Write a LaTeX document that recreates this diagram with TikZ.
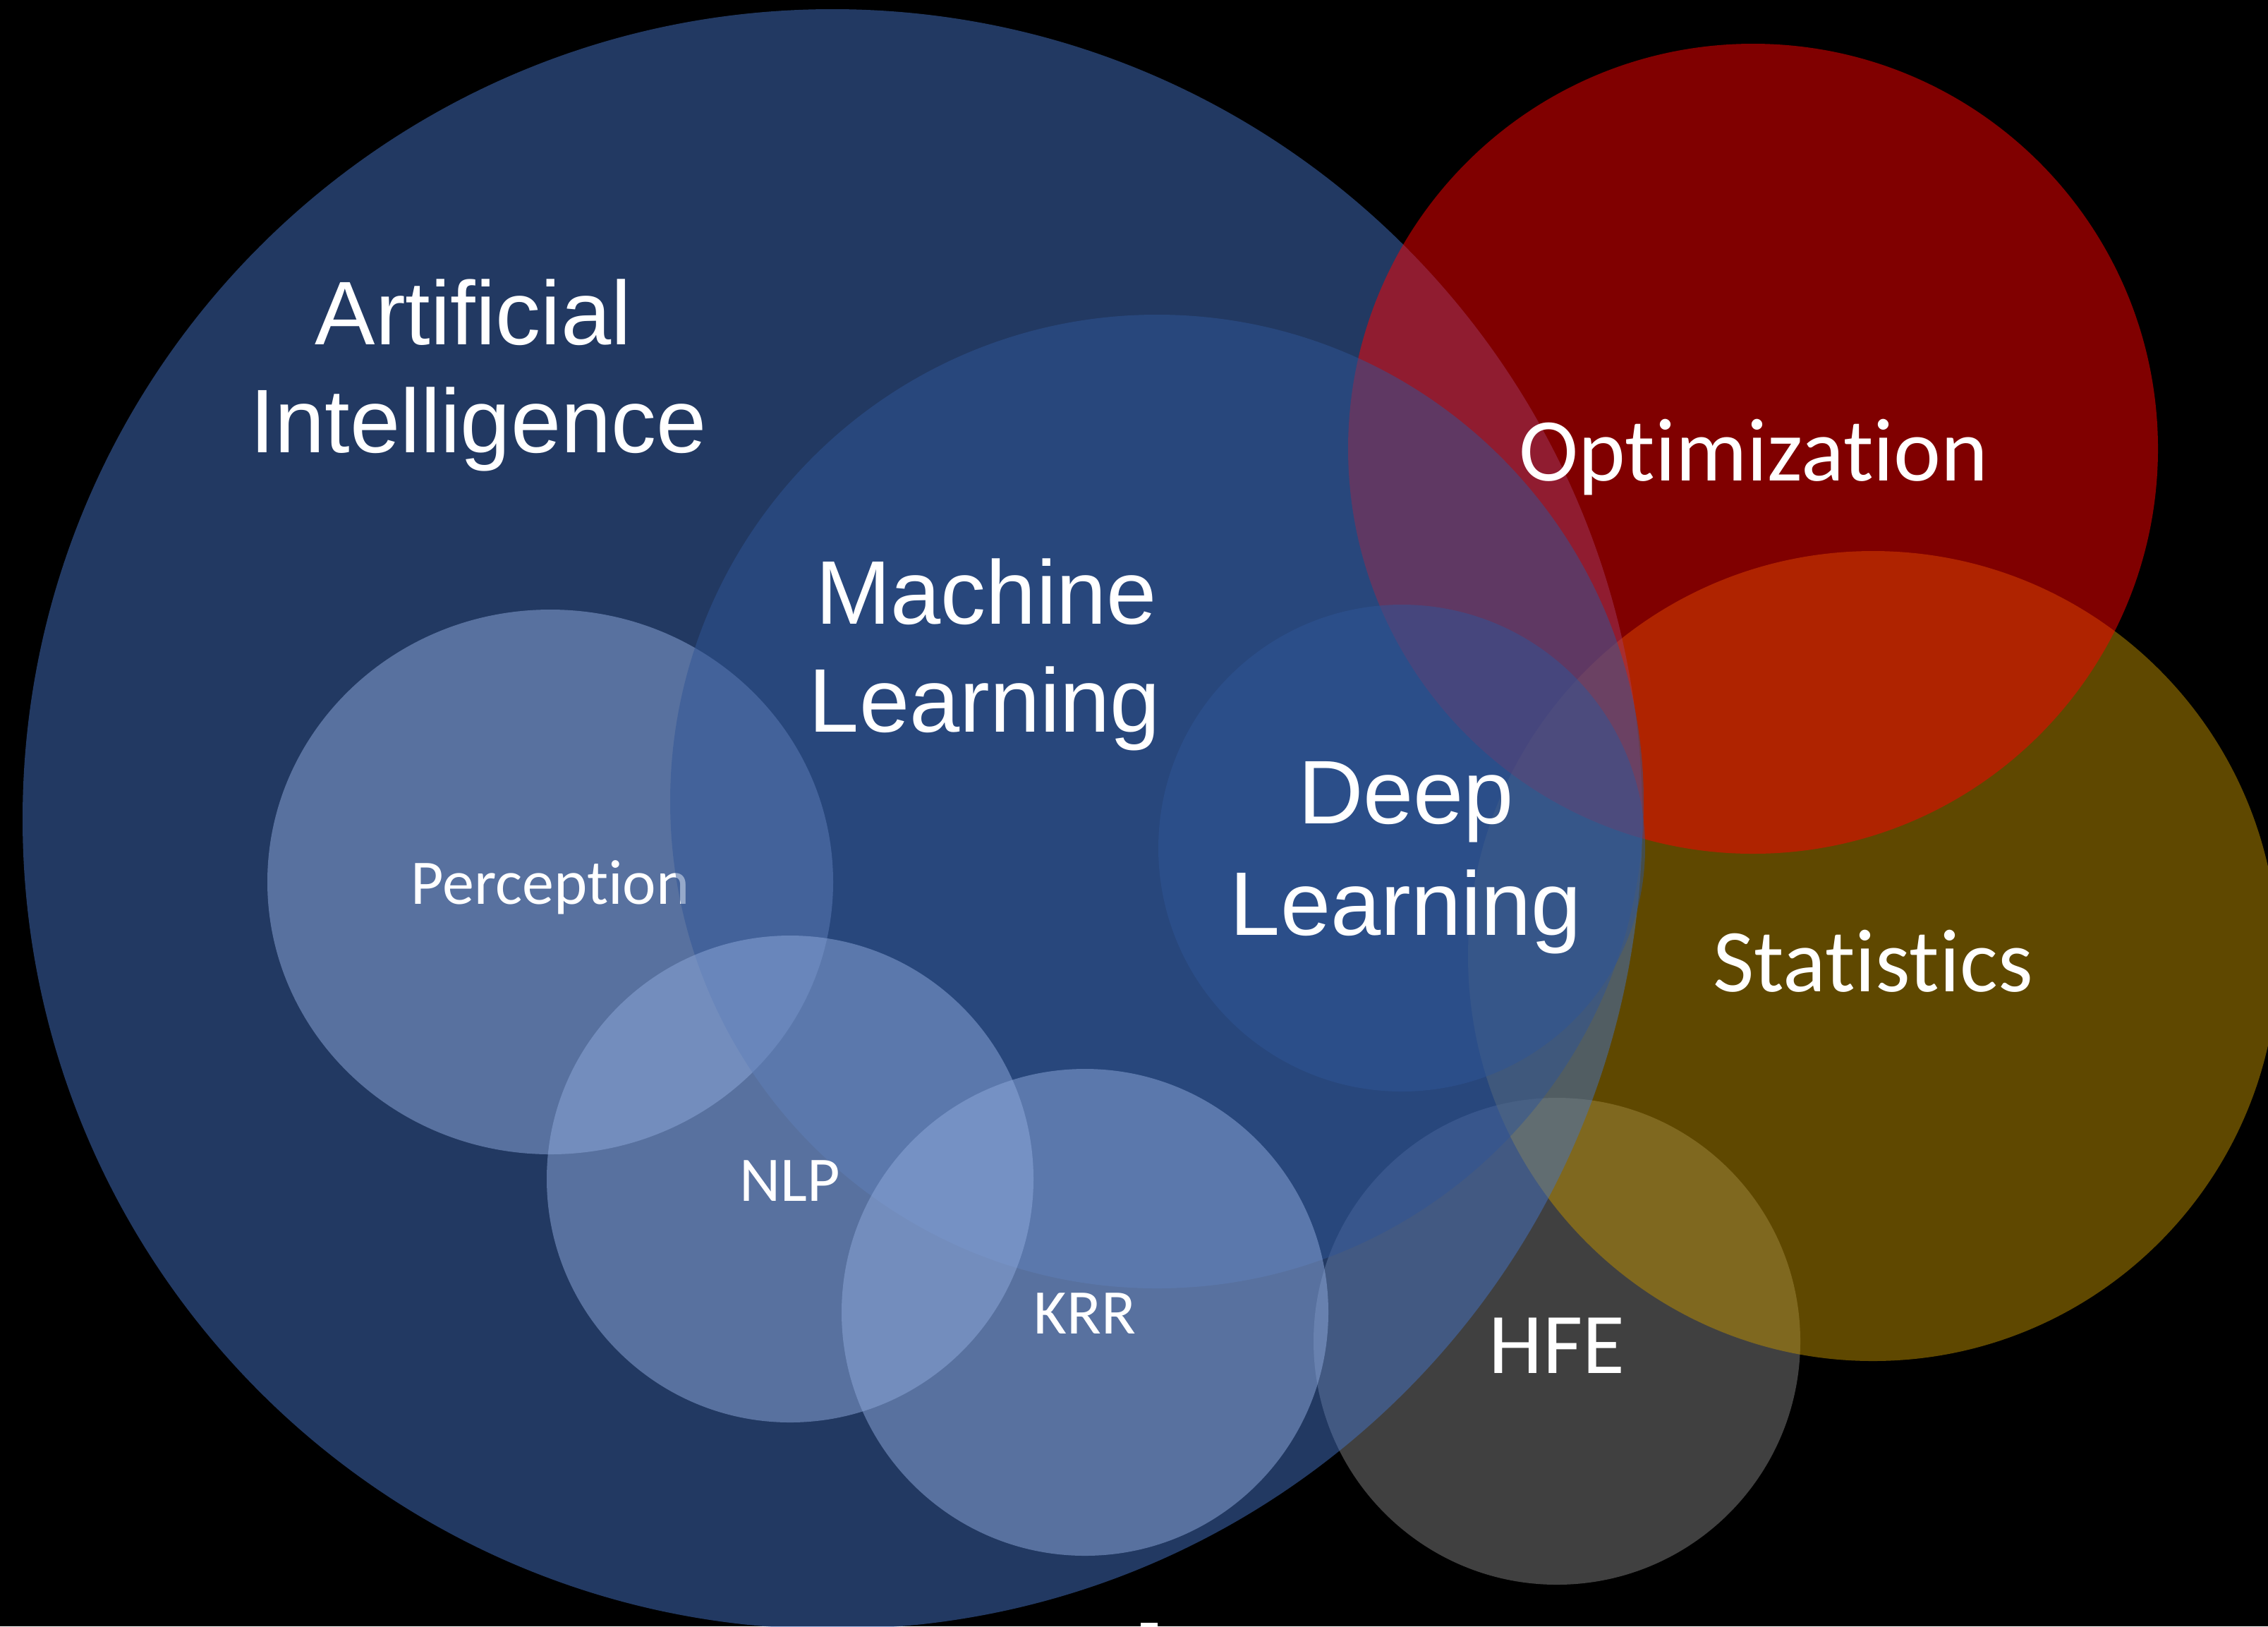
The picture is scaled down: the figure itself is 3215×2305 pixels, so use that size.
\documentclass[tikz,border=0pt]{standalone}
\usepackage{fontspec}
\setmainfont{Liberation Sans}
\newfontfamily\calibrifont[Ligatures=NoCommon]{Carlito}

% fill colours of the discs (each drawn half transparent over black)
\definecolor{aiblue}{HTML}{4472C4}
\definecolor{mlblue}{HTML}{2F5597}
\definecolor{subblue}{HTML}{8FAADC}
\definecolor{optred}{HTML}{FF0000}
\definecolor{statgold}{HTML}{BF9000}
\definecolor{hfegray}{HTML}{808080}

\begin{document}
\begin{tikzpicture}[x=0.01cm, y=-0.01cm,
  disc/.style={fill=#1, fill opacity=0.5, draw=none},
  arialtext/.style={text=white, inner sep=0pt, anchor=base,
    font=\fontsize{36.4pt}{43.7pt}\selectfont},
  calitext/.style={text=white, inner sep=0pt, anchor=base,
    font=\calibrifont\fontsize{36.1pt}{43.3pt}\selectfont},
  hfetext/.style={text=white, inner sep=0pt, anchor=base,
    font=\calibrifont\fontsize{34.8pt}{41.8pt}\selectfont},
  subtext/.style={text=white, inner sep=0pt, anchor=base,
    font=\calibrifont\fontsize{25.6pt}{30.7pt}\selectfont}]

% canvas
\useasboundingbox (0,0) rectangle (3215,2305);
\fill[black] (0,0) rectangle (3215,2305);
\clip (0,0) rectangle (3215,2305);

% discs, back to front
\fill[disc=hfegray]  (2207,1901) circle [radius=345];
\fill[disc=statgold] (2655,1355) circle [radius=574];
\fill[disc=aiblue]   (1180,1161) circle [radius=1148];
\fill[disc=optred]   (2485,636)  circle [radius=574];
\fill[disc=subblue]  (780,1250)  ellipse [x radius=401, y radius=386];
\node[subtext] (perception) at (780,1281) {Perception};
\fill[disc=mlblue]   (1640,1136) circle [radius=690];
\fill[disc=mlblue]   (1987,1202) circle [radius=345];
\fill[disc=subblue]  (1120,1671) circle [radius=345];
\fill[disc=subblue]  (1538,1860) circle [radius=345];

% labels
\node[arialtext] (ai1) at (671,488)  {Artificial};
\node[arialtext] (ai2) at (678,641)  {Intelligence};
\node[arialtext] (ml1) at (1398,884) {Machine};
\node[arialtext] (ml2) at (1396,1037) {Learning};
\node[arialtext] (dl1) at (1993,1167) {Deep};
\node[arialtext] (dl2) at (1993,1325) {Learning};
\node[calitext] (opt)   at (2486,681)  {Optimization};
\node[calitext] (stats) at (2655,1405) {Statistics};
\node[hfetext]  (hfe)   at (2207,1946) {HFE};
\node[subtext]  (nlp)   at (1120,1702) {NLP};
\node[subtext]  (krr)   at (1538,1890) {KRR};

% small white mark at the bottom edge
\fill[white] (1617,2300) rectangle (1641,2305);
\end{tikzpicture}
\end{document}
